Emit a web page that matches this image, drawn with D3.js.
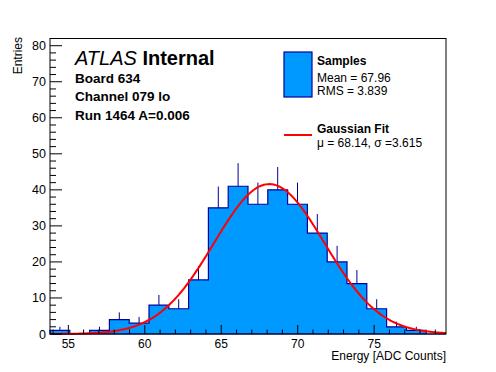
<!DOCTYPE html>
<html>
<head>
<meta charset="utf-8">
<script src="https://cdn.jsdelivr.net/npm/d3@7"></script>
<style>
  body { margin: 0; background: #fff; }
  svg { font-family: "Liberation Sans", Arial, sans-serif; }
</style>
</head>
<body>
<div id="chart"></div>
<script>
// histogram: 20 equal bins between xMin and xMax
var xMin = 53.8, xMax = 79.7;
var counts = [1, 0, 1, 4, 3, 8, 7, 15, 35, 41, 36, 40, 36, 28, 20, 14, 7, 2, 1, 0];
var yMax = 82;
var xTicks = [55, 60, 65, 70, 75];
var yTicks = [0, 10, 20, 30, 40, 50, 60, 70, 80];

// fit + stats
var fitConst = 41.6, fitMean = 68.14, fitSigma = 3.615;
var statMean = "67.96", statRms = "3.839";
var labelLines = ["Board 634", "Channel 079 lo", "Run 1464 A=0.006"];

var W = 496, H = 372;
// note: "top" is taken by window.top, so use frame* names
var frameL = 50, frameR = 446, frameT = 38.5, frameB = 334;

var svg = d3.select("#chart").append("svg").attr("width", W).attr("height", H);

var x = d3.scaleLinear().domain([xMin, xMax]).range([frameL, frameR]);
var y = d3.scaleLinear().domain([0, yMax]).range([frameB, frameT]);

var binW = (xMax - xMin) / counts.length;
var bins = counts.map(function (d, i) {
  return { x0: xMin + i * binW, x1: xMin + (i + 1) * binW, n: d };
});

// error bars first, the fill covers their lower half
svg.selectAll("line.err")
  .data(bins.filter(function (d) { return d.n > 0; }))
  .enter()
  .append("line")
  .attr("class", "err")
  .attr("x1", function (d) { return x((d.x0 + d.x1) / 2); })
  .attr("x2", function (d) { return x((d.x0 + d.x1) / 2); })
  .attr("y1", function (d) { return y(d.n - Math.sqrt(d.n)); })
  .attr("y2", function (d) { return y(d.n + Math.sqrt(d.n)); })
  .style("stroke", "#000099")
  .style("stroke-width", 1);

// step outline
var pts = [[xMin, 0]];
bins.forEach(function (b) {
  pts.push([b.x0, b.n]);
  pts.push([b.x1, b.n]);
});
pts.push([xMax, 0]);

var line = d3.line()
  .x(function (d) { return x(d[0]); })
  .y(function (d) { return y(d[1]); });

svg.append("path")
  .attr("d", line(pts) + "Z")
  .style("fill", "#0099ff")
  .style("stroke", "#000099")
  .style("stroke-width", 1.2);

// gaussian fit curve
var gx = d3.range(0, 201).map(function (i) { return xMin + (xMax - xMin) * i / 200; });
var gauss = gx.map(function (v) {
  return [v, fitConst * Math.exp(-Math.pow(v - fitMean, 2) / (2 * fitSigma * fitSigma))];
});
svg.append("path")
  .attr("d", line(gauss))
  .style("fill", "none")
  .style("stroke", "#ff0000")
  .style("stroke-width", 2);

// frame
svg.append("rect")
  .attr("x", frameL).attr("y", frameT)
  .attr("width", frameR - frameL).attr("height", frameB - frameT)
  .style("fill", "none").style("stroke", "#000").style("stroke-width", 1);

// x axis ticks
var xMinor = d3.range(54, 80);
svg.selectAll("line.xt")
  .data(xMinor)
  .enter()
  .append("line")
  .attr("x1", function (d) { return x(d); })
  .attr("x2", function (d) { return x(d); })
  .attr("y1", frameB)
  .attr("y2", function (d) { return xTicks.indexOf(d) >= 0 ? frameB - 9 : frameB - 4.5; })
  .style("stroke", "#000");

svg.selectAll("text.xl")
  .data(xTicks)
  .enter()
  .append("text")
  .attr("x", function (d) { return x(d); })
  .attr("y", 348)
  .attr("text-anchor", "middle")
  .style("font-size", "12px")
  .text(function (d) { return d; });

// y axis ticks
var yMinor = d3.range(0, yMax + 0.1, 2);
svg.selectAll("line.yt")
  .data(yMinor)
  .enter()
  .append("line")
  .attr("y1", function (d) { return y(d); })
  .attr("y2", function (d) { return y(d); })
  .attr("x1", frameL)
  .attr("x2", function (d) { return d % 10 == 0 ? frameL + 12 : frameL + 6; })
  .style("stroke", "#000");

svg.selectAll("text.yl")
  .data(yTicks)
  .enter()
  .append("text")
  .attr("x", 46)
  .attr("y", function (d) { return y(d) + 4.5; })
  .attr("text-anchor", "end")
  .style("font-size", "12.5px")
  .text(function (d) { return d; });

// axis titles
svg.append("text")
  .attr("x", frameR).attr("y", 360)
  .attr("text-anchor", "end")
  .style("font-size", "12px")
  .text("Energy [ADC Counts]");

svg.append("text")
  .attr("transform", "translate(22,37) rotate(-90)")
  .attr("text-anchor", "end")
  .style("font-size", "12px")
  .text("Entries");

// ATLAS label
var atl = svg.append("text").attr("x", 75).attr("y", 65).style("font-size", "20px");
atl.append("tspan").style("font-style", "italic").text("ATLAS");
atl.append("tspan").style("font-weight", "bold").text(" Internal");

svg.selectAll("text.info")
  .data(labelLines)
  .enter()
  .append("text")
  .attr("x", 75)
  .attr("y", function (d, i) { return 82.5 + i * 18.5; })
  .style("font-size", "13.5px")
  .style("font-weight", "bold")
  .text(function (d) { return d; });

// legend
svg.append("rect")
  .attr("x", 284).attr("y", 52).attr("width", 28).attr("height", 45)
  .style("fill", "#0099ff").style("stroke", "#000099").style("stroke-width", 1.2);

svg.append("text").attr("x", 317).attr("y", 65)
  .style("font-size", "12px").style("font-weight", "bold").text("Samples");
svg.append("text").attr("x", 317).attr("y", 81.5)
  .style("font-size", "12px").text("Mean = " + statMean);
svg.append("text").attr("x", 317).attr("y", 94.5)
  .style("font-size", "12px").text("RMS = " + statRms);

svg.append("line")
  .attr("x1", 284).attr("x2", 312).attr("y1", 135).attr("y2", 135)
  .style("stroke", "#ff0000").style("stroke-width", 2);
svg.append("text").attr("x", 317).attr("y", 132.5)
  .style("font-size", "12px").style("font-weight", "bold").text("Gaussian Fit");
svg.append("text").attr("x", 317).attr("y", 146.5)
  .style("font-size", "12px")
  .text("\u03bc = " + fitMean + ", \u03c3 =" + fitSigma);
</script>
</body>
</html>
